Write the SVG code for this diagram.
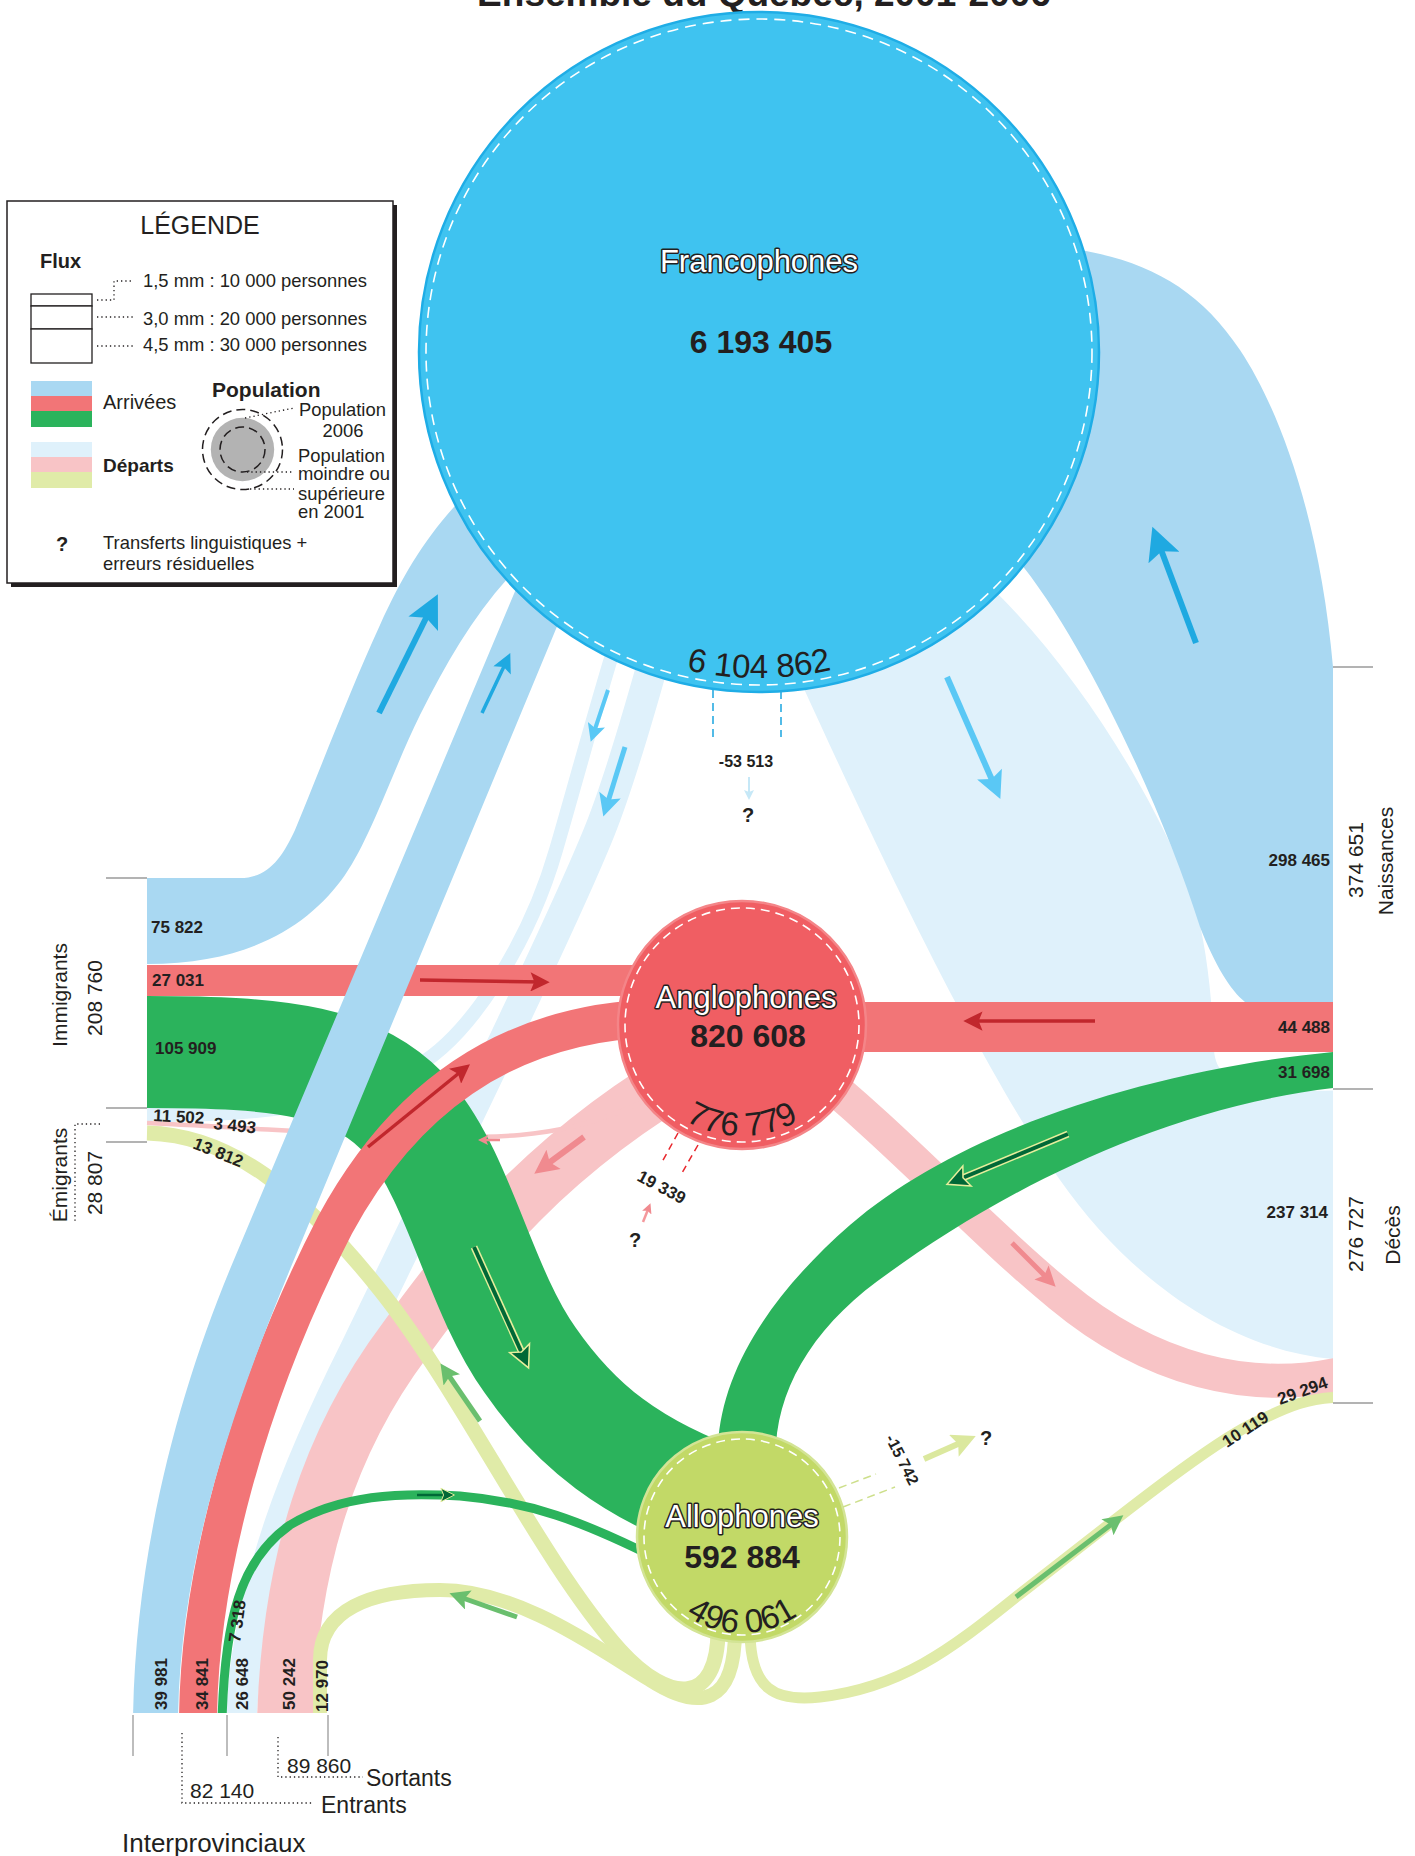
<svg xmlns="http://www.w3.org/2000/svg" width="1415" height="1856" viewBox="0 0 1415 1856">
<defs>
<style>
text{font-family:"Liberation Sans",Arial,sans-serif;fill:#231f20}
.b{font-weight:bold}
.lbl{font-size:17px;font-weight:bold}
.tick{stroke:#9a9a9a;stroke-width:1.3;fill:none}
.dot{stroke:#231f20;stroke-width:1.3;stroke-dasharray:1.3 3;fill:none}
.name{fill:#fff;stroke:#231f20;stroke-width:3;paint-order:stroke;stroke-linejoin:round;font-size:31px}
.arc{font-size:33px}
.leg{font-size:18.4px}
.rib{fill:none;stroke-linecap:butt}
</style>
<clipPath id="flowClip"><rect x="0" y="0" width="1333" height="1713"/></clipPath>
<marker id="mBlue" viewBox="0 0 10 10" refX="6" refY="5" markerWidth="6" markerHeight="5.5" orient="auto"><path d="M0,0L10,5L0,10L2,5z" fill="#1fa9e1"/></marker>
<marker id="mLBlue" viewBox="0 0 10 10" refX="6" refY="5" markerWidth="5" markerHeight="4.5" orient="auto"><path d="M0,0L10,5L0,10L2,5z" fill="#5ac8f5"/></marker>
<marker id="mPale" viewBox="0 0 10 10" refX="6" refY="5" markerWidth="5" markerHeight="5" orient="auto"><path d="M0,0L10,5L0,10L2,5z" fill="#c6e8f7"/></marker>
<marker id="mRed" viewBox="0 0 10 10" refX="6" refY="5" markerWidth="7" markerHeight="5.5" orient="auto"><path d="M0,0L10,5L0,10L2,5z" fill="#c1272d"/></marker>
<marker id="mPink" viewBox="0 0 10 10" refX="6" refY="5" markerWidth="4.5" markerHeight="4" orient="auto"><path d="M0,0L10,5L0,10L2,5z" fill="#f08a8f"/></marker>
<marker id="mGreenD" viewBox="-1 -1 12 12" refX="6" refY="5" markerWidth="7.5" markerHeight="6.5" orient="auto"><path d="M0,0L10,5L0,10L2,5z" fill="#006837" stroke="#e6ee9c" stroke-width="0.7"/></marker>
<marker id="mGreenL" viewBox="0 0 10 10" refX="6" refY="5" markerWidth="4.5" markerHeight="4" orient="auto"><path d="M0,0L10,5L0,10L2,5z" fill="#6abf6e"/></marker>
<marker id="mYel" viewBox="0 0 10 10" refX="6" refY="5" markerWidth="4.5" markerHeight="4" orient="auto"><path d="M0,0L10,5L0,10L2,5z" fill="#dbe89e"/></marker>
<path id="arcF" d="M433,352 A326,326 0 0 0 1085,352" fill="none"/>
<path id="arcA" d="M631,1025 A111,111 0 0 0 853,1025" fill="none"/>
<path id="arcL" d="M646,1537 A96,96 0 0 0 838,1537" fill="none"/>
</defs>
<rect width="1415" height="1856" fill="#fff"/>
<text x="764" y="6" class="b" font-size="37" text-anchor="middle">Ensemble du Québec, 2001-2006</text>

<g id="connectors" clip-path="url(#flowClip)">
  <!-- departures -->
  <path id="f-deces-franco" d="M800,680 L960,560 C1060,640 1160,800 1195,905 C1205,940 1212,990 1214,1050 C1216,1080 1240,1094 1345,1090 L1345,1359 L1333,1359 C1230,1350 1130,1280 1060,1180 C990,1080 900,900 800,680 Z" fill="#dff1fb"/>
  <path id="f-emig-franco" class="rib" d="M147,1115 C260,1116 340,1105 410,1070 C470,1040 530,940 556,850 C575,785 595,710 615,645" stroke="#dff1fb" stroke-width="14"/>
  <path id="f-inter-franco-out" class="rib" d="M241,1720 C248,1580 300,1460 355,1350 C420,1215 560,930 600,830 C620,780 640,710 658,645" stroke="#dff1fb" stroke-width="31"/>
  <path id="f-deces-anglo" class="rib" d="M800,1060 C900,1140 980,1230 1060,1295 C1150,1370 1250,1395 1345,1373" stroke="#f8c4c6" stroke-width="34"/>
  <path id="f-inter-anglo-out" class="rib" d="M285,1720 C290,1560 330,1440 405,1340 C470,1250 550,1150 700,1065" stroke="#f8c4c6" stroke-width="56"/>
  <path id="f-emig-anglo" class="rib" d="M147,1123 C300,1130 420,1142 520,1135 C600,1128 650,1100 700,1070" stroke="#f8c4c6" stroke-width="4.5"/>
  <path id="f-emig-allo" class="rib" d="M147,1133 C230,1135 300,1190 380,1290 C460,1390 540,1560 620,1650 C670,1705 718,1705 718,1630" stroke="#e0eba8" stroke-width="15"/>
  <path id="f-inter-allo-out" class="rib" d="M320,1720 L320,1660 C320,1610 370,1590 440,1590 C520,1590 600,1650 650,1680 C700,1712 735,1705 735,1630" stroke="#e0eba8" stroke-width="14"/>
  <path id="f-deces-allo" class="rib" d="M750,1630 C750,1690 775,1702 820,1697 C900,1688 950,1650 1016,1597 C1090,1540 1200,1450 1250,1425 C1290,1405 1310,1397 1345,1397" stroke="#e0eba8" stroke-width="11"/>
  <!-- arrivals -->
  <path id="f-naiss-franco" d="M1080,250 C1150,262 1200,290 1240,350 C1280,410 1320,520 1333,667 L1345,667 L1345,1002 L1245,1002 C1230,990 1215,965 1200,927 C1160,800 1070,610 1000,540 Z" fill="#a9d8f2"/>
  <path id="f-immig-franco" d="M147,878 L240,878 C268,878 282,858 295,830 C320,770 350,690 380,625 C405,570 430,530 470,490 L540,540 L508,578 C472,618 445,665 420,715 C395,765 370,840 345,875 C310,925 250,964 147,964 Z" fill="#a9d8f2"/>
  <rect id="f-immig-anglo" x="147" y="965" width="563" height="31" fill="#f27577"/>
  <rect id="f-naiss-anglo" x="780" y="1002" width="565" height="50" fill="#f27577"/>
  <path id="f-immig-allo" class="rib" d="M147,1052 C280,1052 360,1060 410,1120 C460,1180 480,1290 530,1360 C575,1425 630,1470 730,1505" stroke="#2bb35c" stroke-width="112"/>
  <path id="f-inter-anglo-in" class="rib" d="M198,1720 C199,1580 245,1400 335,1225 C400,1105 500,1022 660,1018" stroke="#f27577" stroke-width="38"/>
  <path id="f-naiss-allo" d="M1345,1052 L1333,1052 C1150,1070 960,1130 850,1225 C770,1295 722,1370 718,1445 L776,1445 C780,1380 820,1320 890,1272 C990,1200 1150,1110 1333,1088 L1345,1088 Z" fill="#2bb35c"/>
  <path id="f-inter-allo-in" class="rib" d="M222,1720 C225,1620 240,1560 290,1525 C340,1495 400,1492 460,1496 C530,1502 580,1520 660,1560" stroke="#2bb35c" stroke-width="9"/>
  <path id="f-inter-franco-in" d="M133,1720 C135,1560 175,1400 233,1262 L524,570 L568,600 L293,1262 C232,1410 180,1560 178,1720 Z" fill="#a9d8f2"/>
</g>

<g id="node-francophones">
  <circle cx="759" cy="352" r="340" fill="#3fc3f0" stroke="#1fade6" stroke-width="2.5"/>
  <circle cx="759" cy="352" r="333" fill="none" stroke="#fff" stroke-width="1.6" stroke-dasharray="11 7"/>
  <text x="759" y="272" class="name" text-anchor="middle" font-size="32">Francophones</text>
  <text x="761" y="353" class="b" font-size="32" text-anchor="middle">6 193 405</text>
  <text class="arc"><textPath href="#arcF" startOffset="50%" text-anchor="middle">6 104 862</textPath></text>
  <g stroke="#29abe2" stroke-width="1.6" stroke-dasharray="8 5"><line x1="713" y1="690" x2="713" y2="737"/><line x1="781" y1="691" x2="781" y2="737"/></g>
  <text x="746" y="767" class="b" font-size="16" text-anchor="middle">-53 513</text>
  <line x1="749" y1="777" x2="749" y2="796" stroke="#c6e8f7" stroke-width="2" marker-end="url(#mPale)"/>
  <text x="748" y="822" class="b" font-size="20" text-anchor="middle">?</text>
</g>

<g id="node-anglophones">
  <circle cx="742" cy="1025" r="124" fill="#f05e63" stroke="#f48588" stroke-width="2.5"/>
  <circle cx="742" cy="1025" r="117" fill="none" stroke="#fff" stroke-width="1.6" stroke-dasharray="9 6"/>
  <text x="746" y="1008" class="name" text-anchor="middle">Anglophones</text>
  <text x="748" y="1047" class="b" font-size="32" text-anchor="middle">820 608</text>
  <text class="arc"><textPath href="#arcA" startOffset="50%" text-anchor="middle">776 779</textPath></text>
  <g stroke="#e8262c" stroke-width="1.5" stroke-dasharray="7 5"><line x1="678" y1="1133" x2="662" y2="1162"/><line x1="698" y1="1145" x2="682" y2="1173"/></g>
  <text transform="translate(636,1180) rotate(28)" class="b" font-size="17">19 339</text>
  <line x1="643" y1="1222" x2="649" y2="1207" stroke="#f4989c" stroke-width="2.5" marker-end="url(#mPink)"/>
  <text x="635" y="1247" class="b" font-size="20" text-anchor="middle">?</text>
</g>

<g id="node-allophones">
  <circle cx="742" cy="1537" r="105" fill="#c2d967" stroke="#d3e495" stroke-width="2.5"/>
  <circle cx="742" cy="1537" r="98" fill="none" stroke="#fff" stroke-width="1.6" stroke-dasharray="9 6"/>
  <text x="742" y="1527" class="name" text-anchor="middle">Allophones</text>
  <text x="742" y="1568" class="b" font-size="32" text-anchor="middle">592 884</text>
  <text class="arc"><textPath href="#arcL" startOffset="50%" text-anchor="middle">496 061</textPath></text>
  <g stroke="#cddf8b" stroke-width="1.5" stroke-dasharray="8 5"><line x1="839" y1="1488" x2="876" y2="1474"/><line x1="843" y1="1507" x2="895" y2="1487"/></g>
  <line x1="924" y1="1459" x2="967" y2="1440" stroke="#dbe89e" stroke-width="6" marker-end="url(#mYel)"/>
  <text transform="translate(885,1438) rotate(63)" class="b" font-size="16">-15 742</text>
  <text x="986" y="1445" class="b" font-size="20" text-anchor="middle">?</text>
</g>

<g id="arrows">
  <line x1="379" y1="713" x2="432" y2="606" stroke="#1fa9e1" stroke-width="6" marker-end="url(#mBlue)"/>
  <line x1="482" y1="713" x2="507" y2="660" stroke="#1fa9e1" stroke-width="3.5" marker-end="url(#mBlue)"/>
  <line x1="1196" y1="643" x2="1157" y2="539" stroke="#1fa9e1" stroke-width="6" marker-end="url(#mBlue)"/>
  <line x1="608" y1="690" x2="593" y2="735" stroke="#5ac8f5" stroke-width="4" marker-end="url(#mLBlue)"/>
  <line x1="625" y1="747" x2="606" y2="808" stroke="#5ac8f5" stroke-width="5" marker-end="url(#mLBlue)"/>
  <line x1="947" y1="677" x2="996" y2="789" stroke="#5ac8f5" stroke-width="6" marker-end="url(#mLBlue)"/>
  <line x1="420" y1="980" x2="542" y2="982" stroke="#c1272d" stroke-width="3.5" marker-end="url(#mRed)"/>
  <line x1="368" y1="1147" x2="464" y2="1069" stroke="#c1272d" stroke-width="3.5" marker-end="url(#mRed)"/>
  <line x1="1095" y1="1021" x2="971" y2="1021" stroke="#c1272d" stroke-width="3.5" marker-end="url(#mRed)"/>
  <line x1="584" y1="1137" x2="542" y2="1168" stroke="#f08a8f" stroke-width="6" marker-end="url(#mPink)"/>
  <line x1="500" y1="1140" x2="482" y2="1140" stroke="#f08a8f" stroke-width="2.5" marker-end="url(#mPink)"/>
  <line x1="1012" y1="1243" x2="1050" y2="1281" stroke="#f08a8f" stroke-width="5" marker-end="url(#mPink)"/>
  <line x1="474" y1="1247" x2="523" y2="1355" stroke="#e6ee9c" stroke-width="7"/>
  <line x1="474" y1="1247" x2="525" y2="1360" stroke="#006837" stroke-width="4" marker-end="url(#mGreenD)"/>
  <line x1="1068" y1="1134" x2="960" y2="1179" stroke="#e6ee9c" stroke-width="7"/>
  <line x1="1068" y1="1134" x2="955" y2="1181" stroke="#006837" stroke-width="4" marker-end="url(#mGreenD)"/>
  <line x1="417" y1="1495" x2="449" y2="1495" stroke="#006837" stroke-width="2.5" marker-end="url(#mGreenD)"/>
  <line x1="480" y1="1421" x2="445" y2="1370" stroke="#6abf6e" stroke-width="5" marker-end="url(#mGreenL)"/>
  <line x1="517" y1="1617" x2="457" y2="1596" stroke="#6abf6e" stroke-width="5" marker-end="url(#mGreenL)"/>
  <line x1="1016" y1="1597" x2="1117" y2="1520" stroke="#6abf6e" stroke-width="5" marker-end="url(#mGreenL)"/>
</g>

<g id="flow-labels">
  <text x="151" y="933" class="lbl">75 822</text>
  <text x="152" y="986" class="lbl">27 031</text>
  <text x="155" y="1054" class="lbl">105 909</text>
  <text transform="translate(153,1121) rotate(3)" class="lbl">11 502</text>
  <text transform="translate(213,1129) rotate(6)" class="lbl">3 493</text>
  <text transform="translate(192,1148) rotate(22)" class="lbl">13 812</text>
  <text x="1330" y="866" class="lbl" text-anchor="end">298 465</text>
  <text x="1330" y="1033" class="lbl" text-anchor="end">44 488</text>
  <text x="1330" y="1078" class="lbl" text-anchor="end">31 698</text>
  <text x="1328" y="1218" class="lbl" text-anchor="end">237 314</text>
  <text transform="translate(1280,1405) rotate(-20)" class="lbl">29 294</text>
  <text transform="translate(1227,1448) rotate(-33)" class="lbl">10 119</text>
  <text transform="translate(167,1710) rotate(-90)" class="lbl">39 981</text>
  <text transform="translate(208,1710) rotate(-90)" class="lbl">34 841</text>
  <text transform="translate(240,1643) rotate(-82)" class="lbl">7 318</text>
  <text transform="translate(248,1710) rotate(-90)" class="lbl">26 648</text>
  <text transform="translate(295,1710) rotate(-90)" class="lbl">50 242</text>
  <text transform="translate(328,1712) rotate(-90)" class="lbl">12 970</text>
</g>

<g id="node-immigrants-emigrants">
  <line class="tick" x1="106" y1="878" x2="147" y2="878"/>
  <line class="tick" x1="106" y1="1108" x2="147" y2="1108"/>
  <line class="tick" x1="106" y1="1142" x2="147" y2="1142"/>
  <polyline class="dot" points="100,1124 75,1124 75,1222"/>
  <text transform="translate(67,995) rotate(-90)" font-size="21" text-anchor="middle">Immigrants</text>
  <text transform="translate(102,998) rotate(-90)" font-size="21" text-anchor="middle">208 760</text>
  <text transform="translate(67,1175) rotate(-90)" font-size="21" text-anchor="middle">Émigrants</text>
  <text transform="translate(102,1183) rotate(-90)" font-size="21" text-anchor="middle">28 807</text>
</g>

<g id="node-naissances-deces">
  <line class="tick" x1="1333" y1="667" x2="1373" y2="667"/>
  <line class="tick" x1="1333" y1="1089" x2="1373" y2="1089"/>
  <line class="tick" x1="1333" y1="1403" x2="1373" y2="1403"/>
  <text transform="translate(1363,860) rotate(-90)" font-size="21" text-anchor="middle">374 651</text>
  <text transform="translate(1393,861) rotate(-90)" font-size="21" text-anchor="middle">Naissances</text>
  <text transform="translate(1363,1234) rotate(-90)" font-size="21" text-anchor="middle">276 727</text>
  <text transform="translate(1400,1235) rotate(-90)" font-size="21" text-anchor="middle">Décès</text>
</g>

<g id="node-interprovinciaux">
  <line class="tick" x1="133" y1="1715" x2="133" y2="1756"/>
  <line class="tick" x1="227" y1="1715" x2="227" y2="1756"/>
  <line class="tick" x1="328" y1="1715" x2="328" y2="1756"/>
  <polyline class="dot" points="182,1733 182,1803 313,1803"/>
  <polyline class="dot" points="278,1737 278,1777 363,1777"/>
  <text x="190" y="1798" font-size="21">82 140</text>
  <text x="321" y="1813" font-size="23">Entrants</text>
  <text x="287" y="1773" font-size="21">89 860</text>
  <text x="366" y="1786" font-size="23">Sortants</text>
  <text x="122" y="1852" font-size="26">Interprovinciaux</text>
</g>

<g id="legend">
  <rect x="11" y="205" width="386" height="382" fill="#231f20"/>
  <rect x="7" y="201" width="386" height="382" fill="#fff" stroke="#231f20" stroke-width="1.5"/>
  <text x="200" y="234" font-size="25" text-anchor="middle">LÉGENDE</text>
  <text x="40" y="268" class="b" font-size="20">Flux</text>
  <g fill="#fff" stroke="#231f20" stroke-width="1.3">
    <rect x="31" y="294" width="61" height="12"/>
    <rect x="31" y="306" width="61" height="23"/>
    <rect x="31" y="329" width="61" height="34"/>
  </g>
  <polyline class="dot" points="97,300 114,300 114,281 133,281"/>
  <line class="dot" x1="97" y1="317" x2="133" y2="317"/>
  <line class="dot" x1="97" y1="346" x2="133" y2="346"/>
  <text x="143" y="287" class="leg">1,5 mm : 10 000 personnes</text>
  <text x="143" y="325" class="leg">3,0 mm : 20 000 personnes</text>
  <text x="143" y="351" class="leg">4,5 mm : 30 000 personnes</text>
  <rect x="31" y="381" width="61" height="15" fill="#a9d8f2"/>
  <rect x="31" y="396" width="61" height="15" fill="#f27577"/>
  <rect x="31" y="411" width="61" height="16" fill="#2bb35c"/>
  <rect x="31" y="442" width="61" height="15" fill="#dff1fb"/>
  <rect x="31" y="457" width="61" height="15" fill="#f8c4c6"/>
  <rect x="31" y="472" width="61" height="16" fill="#e0eba8"/>
  <text x="103" y="409" font-size="20">Arrivées</text>
  <text x="103" y="472" class="b" font-size="19">Départs</text>
  <text x="212" y="397" class="b" font-size="21">Population</text>
  <circle cx="242.5" cy="449.5" r="40" fill="none" stroke="#231f20" stroke-width="1.5" stroke-dasharray="9 5"/>
  <circle cx="242.5" cy="449.5" r="31.7" fill="#b3b3b3"/>
  <circle cx="242.5" cy="449.5" r="22.5" fill="none" stroke="#231f20" stroke-width="1.5" stroke-dasharray="9 5"/>
  <line class="dot" x1="245" y1="418" x2="294" y2="408"/>
  <line class="dot" x1="247" y1="472" x2="294" y2="472"/>
  <line class="dot" x1="250" y1="489" x2="294" y2="489"/>
  <text x="299" y="416" class="leg">Population</text>
  <text x="343" y="437" class="leg" text-anchor="middle">2006</text>
  <text x="298" y="462" class="leg">Population</text>
  <text x="298" y="480" class="leg">moindre ou</text>
  <text x="298" y="500" class="leg">supérieure</text>
  <text x="298" y="518" class="leg">en 2001</text>
  <text x="62" y="551" class="b" font-size="20" text-anchor="middle">?</text>
  <text x="103" y="549" class="leg">Transferts linguistiques +</text>
  <text x="103" y="570" class="leg">erreurs résiduelles</text>
</g>
</svg>
